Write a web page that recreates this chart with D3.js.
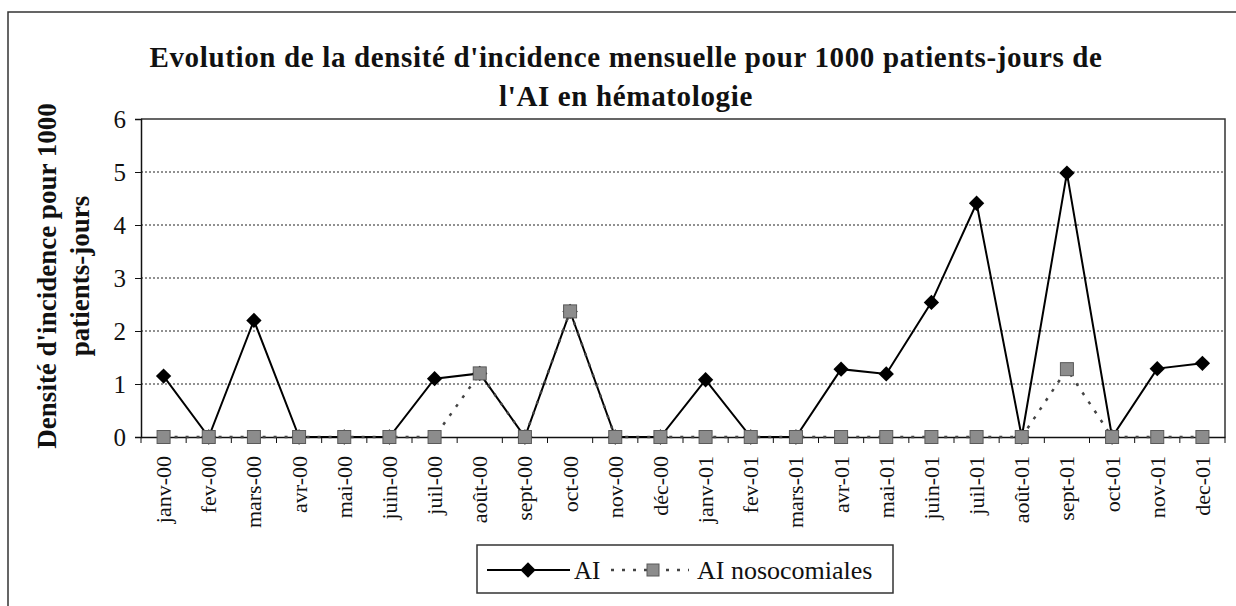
<!DOCTYPE html>
<html>
<head>
<meta charset="utf-8">
<script src="https://cdn.jsdelivr.net/npm/d3@7"></script>
<style>
  body { margin: 0; background: #fff; }
  svg text { font-family: "Liberation Serif", "Times New Roman", serif; fill: #111; }
</style>
</head>
<body>
<div id="chart"></div>
<script>
// months of 2000 and 2001
const months = ["janv-00","fev-00","mars-00","avr-00","mai-00","juin-00","juil-00","août-00",
  "sept-00","oct-00","nov-00","déc-00","janv-01","fev-01","mars-01","avr-01","mai-01",
  "juin-01","juil-01","août-01","sept-01","oct-01","nov-01","dec-01"];

// incidence density per 1000 patient-days
const aiValues = [1.15,0,2.2,0,0,0,1.1,1.2,0,2.37,0,0,1.08,0,0,1.28,1.19,2.54,4.41,0,4.98,0,1.29,1.39];
const nosoValues = [0,0,0,0,0,0,0,1.2,0,2.37,0,0,0,0,0,0,0,0,0,0,1.28,0,0,0];

const yTicks = [0,1,2,3,4,5,6];

const width = 1236, height = 606;
const margin = {left: 141, right: 11, top: 119, bottom: 169};

const svg = d3.select("#chart").append("svg")
  .attr("width", width)
  .attr("height", height);

// outer frame (cut by the page on the right and bottom)
svg.append("rect")
  .attr("x", 8).attr("y", 12)
  .attr("width", 1300).attr("height", 700)
  .attr("fill", "none")
  .attr("stroke", "#333")
  .attr("stroke-width", 1.5);

const x = d3.scalePoint()
  .domain(months)
  .range([margin.left, width - margin.right])
  .padding(0.5);

const y = d3.scaleLinear()
  .domain([0, 6])
  .range([height - margin.bottom, margin.top]);

// title
const title = svg.append("text")
  .attr("text-anchor", "middle")
  .attr("font-weight", "bold")
  .attr("font-size", 29)
  .attr("letter-spacing", 0.65);
title.append("tspan").attr("x", 626).attr("y", 67)
  .text("Evolution de la densité d'incidence mensuelle pour 1000 patients-jours de");
title.append("tspan").attr("x", 626).attr("y", 106)
  .text("l'AI en hématologie");

// horizontal grid
svg.append("g")
  .selectAll("line")
  .data(yTicks.filter(d => d > 0 && d < 6))
  .join("line")
  .attr("x1", margin.left).attr("x2", width - margin.right)
  .attr("y1", d => y(d)).attr("y2", d => y(d))
  .attr("stroke", "#222")
  .attr("stroke-width", 1)
  .attr("stroke-dasharray", "2,2");

// plot border top + right
svg.append("path")
  .attr("d", `M${margin.left},${y(6)}H${width - margin.right}V${y(0)}`)
  .attr("fill", "none")
  .attr("stroke", "#333")
  .attr("stroke-width", 1.5);

// y axis
const yAxis = svg.append("g")
  .attr("transform", `translate(${margin.left},0)`)
  .call(d3.axisLeft(y).tickValues(yTicks).tickSize(6).tickPadding(9).tickFormat(d3.format("d")));
yAxis.select(".domain").attr("stroke", "#111").attr("stroke-width", 1.5);
yAxis.selectAll(".tick line").attr("stroke", "#111");
yAxis.selectAll(".tick text")
  .attr("font-family", "Liberation Serif, serif")
  .attr("font-size", 25)
  .attr("fill", "#111");

// x axis: line with ticks between the months
const step = x.step();
const xAxis = svg.append("g")
  .attr("transform", `translate(0,${y(0)})`)
  .call(d3.axisBottom(x).tickSize(0).tickPadding(0));
xAxis.select(".domain").attr("stroke", "#111").attr("stroke-width", 1.5);
xAxis.selectAll(".tick text")
  .attr("font-family", "Liberation Serif, serif")
  .attr("font-size", 22)
  .attr("fill", "#111")
  .attr("text-anchor", "end")
  .attr("dy", null)
  .attr("transform", "translate(7,19) rotate(-90)");
xAxis.append("g")
  .selectAll("line")
  .data(d3.range(months.length + 1))
  .join("line")
  .attr("x1", i => margin.left + i * step)
  .attr("x2", i => margin.left + i * step)
  .attr("y1", 0).attr("y2", 6)
  .attr("stroke", "#111");

// y axis title
const yTitle = svg.append("text")
  .attr("transform", "translate(56,276) rotate(-90)")
  .attr("text-anchor", "middle")
  .attr("font-weight", "bold")
  .attr("font-size", 27);
yTitle.append("tspan").attr("x", 0).attr("y", 0).text("Densité d'incidence pour 1000");
yTitle.append("tspan").attr("x", 0).attr("y", 33).text("patients-jours");

// series
const line = d3.line()
  .x((d, i) => x(months[i]))
  .y(d => y(d));

svg.append("path")
  .datum(aiValues)
  .attr("d", line)
  .attr("fill", "none")
  .attr("stroke", "#000")
  .attr("stroke-width", 2);

const diamond = d3.symbol().type(d3.symbolDiamond2).size(150);
svg.append("g")
  .selectAll("path")
  .data(aiValues)
  .join("path")
  .attr("d", diamond)
  .attr("transform", (d, i) => `translate(${x(months[i])},${y(d)})`)
  .attr("fill", "#000");

svg.append("path")
  .datum(nosoValues)
  .attr("d", line)
  .attr("fill", "none")
  .attr("stroke", "#444")
  .attr("stroke-width", 2.5)
  .attr("stroke-dasharray", "3,8");

svg.append("g")
  .selectAll("rect")
  .data(nosoValues)
  .join("rect")
  .attr("x", (d, i) => x(months[i]) - 6.5)
  .attr("y", d => y(d) - 6.5)
  .attr("width", 13).attr("height", 13)
  .attr("fill", "#8c8c8c")
  .attr("stroke", "#5a5a5a")
  .attr("stroke-width", 1);

// legend
const lg = svg.append("g").attr("transform", "translate(477,545)");
lg.append("rect")
  .attr("width", 416).attr("height", 48)
  .attr("fill", "#fff")
  .attr("stroke", "#333")
  .attr("stroke-width", 1.5);
lg.append("line")
  .attr("x1", 10).attr("x2", 93).attr("y1", 25).attr("y2", 25)
  .attr("stroke", "#000").attr("stroke-width", 2);
lg.append("path")
  .attr("d", diamond)
  .attr("transform", "translate(51,25)")
  .attr("fill", "#000");
lg.append("text")
  .attr("x", 97).attr("y", 34)
  .attr("font-family", "Liberation Sans, Arial, sans-serif")
  .attr("font-size", 25)
  .text("AI");
lg.append("line")
  .attr("x1", 134).attr("x2", 212).attr("y1", 25).attr("y2", 25)
  .attr("stroke", "#444").attr("stroke-width", 2.5)
  .attr("stroke-dasharray", "3,8");
lg.append("rect")
  .attr("x", 170).attr("y", 19)
  .attr("width", 12).attr("height", 12)
  .attr("fill", "#8c8c8c")
  .attr("stroke", "#5a5a5a");
lg.append("text")
  .attr("x", 220).attr("y", 34)
  .attr("font-size", 26)
  .text("AI nosocomiales");
</script>
</body>
</html>
